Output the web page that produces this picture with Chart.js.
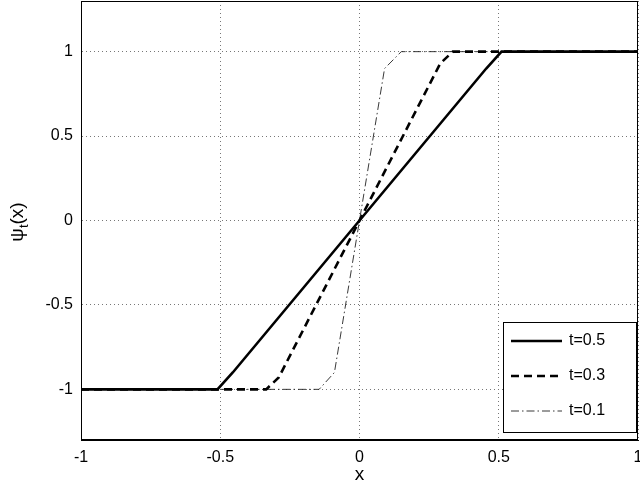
<!DOCTYPE html>
<html>
<head>
<meta charset="utf-8">
<script src="https://cdn.jsdelivr.net/npm/chart.js@4/dist/chart.umd.min.js"></script>
<style>
  body { margin: 0; background: #fff; }
</style>
</head>
<body>
<canvas id="chart" width="640" height="486"></canvas>
<script>
// data
const xTicks = [-1, -0.5, 0, 0.5, 1];
const yTicks = [-1, -0.5, 0, 0.5, 1];
const labels = ['t=0.5', 't=0.3', 't=0.1'];

const x05 = [-1, -0.51, -0.455, 0.455, 0.51, 1];
const y05 = [-1, -1, -0.9, 0.9, 1, 1];
const x03 = [-1, -0.335, -0.29, 0.29, 0.335, 1];
const y03 = [-1, -1, -0.93, 0.93, 1, 1];
const x01 = [-1, -0.145, -0.09, 0.09, 0.15, 1];
const y01 = [-1, -1, -0.9, 0.9, 1, 1];

const FONT = 'Liberation Sans, Arial, Helvetica, sans-serif';

function pts(xs, ys) {
  return xs.map((x, i) => ({ x: x, y: ys[i] }));
}

const styles = [
  { borderColor: '#000', borderWidth: 2.6, borderDash: [] },
  { borderColor: '#000', borderWidth: 2.6, borderDash: [8, 5] },
  { borderColor: '#222', borderWidth: 0.9, borderDash: [8, 3, 1.5, 3] }
];

// frame, legend box and y title
const extras = {
  id: 'extras',
  afterDraw(chart) {
    const ctx = chart.ctx;
    const a = chart.chartArea;
    ctx.save();
    ctx.strokeStyle = '#000';
    ctx.lineWidth = 1;
    ctx.setLineDash([]);
    ctx.strokeRect(a.left + 0.5, a.top + 0.5, a.right - a.left - 1, a.bottom - a.top - 1);

    // legend
    const lx = 503, ly = 322, lw = 133, lh = 110;
    ctx.fillStyle = '#fff';
    ctx.fillRect(lx, ly, lw, lh);
    ctx.strokeRect(lx + 0.5, ly + 0.5, lw, lh);
    ctx.font = '16px ' + FONT;
    ctx.textBaseline = 'middle';
    labels.forEach((lab, i) => {
      const yy = 341 + i * 35;
      const s = styles[i];
      ctx.strokeStyle = s.borderColor;
      ctx.lineWidth = s.borderWidth;
      ctx.setLineDash(s.borderDash);
      ctx.beginPath();
      ctx.moveTo(511, yy);
      ctx.lineTo(562, yy);
      ctx.stroke();
      ctx.fillStyle = '#000';
      ctx.fillText(lab, 569, yy);
    });

    // y axis title with subscript
    ctx.setLineDash([]);
    ctx.translate(17, 222);
    ctx.rotate(-Math.PI / 2);
    ctx.fillStyle = '#000';
    ctx.textBaseline = 'alphabetic';
    const big = '19px ' + FONT, small = '13px ' + FONT;
    ctx.font = big;
    const w1 = ctx.measureText('\u03c8').width;
    const w3 = ctx.measureText('(x)').width;
    ctx.font = small;
    const w2 = ctx.measureText('t').width;
    let px = -(w1 + w2 + w3) / 2;
    ctx.font = big;
    ctx.fillText('\u03c8', px, 6);
    px += w1;
    ctx.font = small;
    ctx.fillText('t', px, 11);
    px += w2;
    ctx.font = big;
    ctx.fillText('(x)', px, 6);
    ctx.restore();
  }
};

const ctx = document.getElementById('chart').getContext('2d');
new Chart(ctx, {
  type: 'line',
  data: {
    datasets: [
      Object.assign({ label: labels[0], data: pts(x05, y05) }, styles[0]),
      Object.assign({ label: labels[1], data: pts(x03, y03) }, styles[1]),
      Object.assign({ label: labels[2], data: pts(x01, y01) }, styles[2])
    ].map(d => Object.assign(d, { pointRadius: 0, tension: 0, fill: false }))
  },
  options: {
    responsive: false,
    animation: false,
    layout: { padding: { left: 0, right: 2, top: 1, bottom: 0 } },
    plugins: {
      legend: { display: false },
      tooltip: { enabled: false }
    },
    scales: {
      x: {
        type: 'linear',
        min: -1,
        max: 1,
        afterBuildTicks: s => { s.ticks = xTicks.map(v => ({ value: v })); },
        afterFit: s => { s.height = 46; s.paddingLeft = 0; s.paddingRight = 0; },
        grid: {
          color: '#777',
          lineWidth: 1,
          drawTicks: false,
          tickLength: 0
        },
        border: { display: true, color: '#000', dash: [1, 3] },
        ticks: {
          color: '#000',
          padding: 8,
          maxRotation: 0,
          font: { family: FONT, size: 16 },
          callback: v => String(v)
        },
        title: {
          display: true,
          text: 'x',
          color: '#000',
          padding: { top: 1, bottom: 0 },
          font: { family: FONT, size: 19 }
        }
      },
      y: {
        type: 'linear',
        min: -1.3,
        max: 1.3,
        afterBuildTicks: s => { s.ticks = yTicks.map(v => ({ value: v })); },
        afterFit: s => { s.width = 81; s.paddingTop = 0; s.paddingBottom = 0; },
        grid: {
          color: '#777',
          lineWidth: 1,
          drawTicks: false,
          tickLength: 0
        },
        border: { display: true, color: '#000', dash: [1, 3] },
        ticks: {
          color: '#000',
          padding: 8,
          font: { family: FONT, size: 16 },
          callback: v => String(v)
        }
      }
    }
  },
  plugins: [extras]
});
</script>
</body>
</html>
